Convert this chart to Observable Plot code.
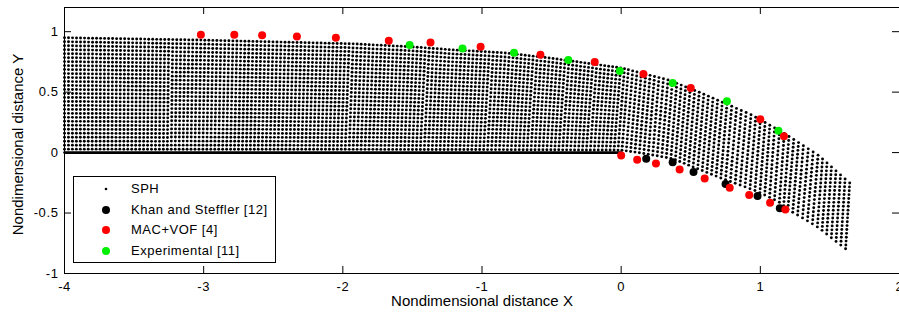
<!DOCTYPE html>
<html><head><meta charset="utf-8">
<script src="https://cdn.jsdelivr.net/npm/d3@7"></script>
<script src="https://cdn.jsdelivr.net/npm/@observablehq/plot@0.6"></script>
<style>
body{margin:0;background:#fff;font-family:"Liberation Sans",Arial,sans-serif;}
#wrap{position:relative;width:899px;height:320px;}
#legend{position:absolute;left:73px;top:176px;width:201px;height:85px;border:1px solid #000;background:#fff;}
.row{position:absolute;left:0;height:20px;line-height:20px;font-size:13px;letter-spacing:0.5px;color:#000;white-space:nowrap;}
.row svg{position:absolute;left:22px;top:0;}
.row span{position:absolute;left:57px;top:0;}
g[aria-label="x-axis tick label"] text, g[aria-label="y-axis tick label"] text{letter-spacing:0.6px;}
g[aria-label="axis-title"] text{letter-spacing:0.6px;}
</style></head><body><div id="wrap"><div id="legend"></div></div>
<script>
// ---- axes ----
const xTicks = [-4, -3, -2, -1, 0, 1, 2];
const yTicks = [-1, -0.5, 0, 0.5, 1];
const xLabel = "Nondimensional distance X";
const yLabel = "Nondimensional distance Y";

// ---- SPH particle field, read as its boundaries ----
// free surface (top row of particles)
const sphUpperX = [-4, -3, -2.66, -1.94, -1.51, -1.22, -0.84, -0.5, 0, 0.34, 0.58, 0.94, 1.17, 1.42, 1.65];
const sphUpperY = [0.95, 0.93, 0.92, 0.90, 0.875, 0.85, 0.825, 0.78, 0.70, 0.60, 0.49, 0.31, 0.16, -0.025, -0.26];
// channel bed + lower nappe (bottom row of particles)
const sphLowerX = [-4, 0, 0.18, 0.37, 0.52, 0.74, 0.98, 1.14, 1.2, 1.32, 1.42, 1.53, 1.62];
const sphLowerY = [0, 0, -0.03, -0.07, -0.14, -0.24, -0.34, -0.43, -0.49, -0.57, -0.64, -0.74, -0.82];
// particle spacing (in data units along x / across the flow)
const sphSpacingBed = 0.0284;
const sphSpacingAcross = 0.034;
// channel bed (solid wall)
const bedX = [-4, 0];
const bedY = [0, 0];

// ---- Khan and Steffler [12] ----
const khanX = [0.18, 0.37, 0.52, 0.75, 0.98, 1.14];
const khanY = [-0.05, -0.08, -0.16, -0.26, -0.36, -0.46];

// ---- MAC+VOF [4] ----
const macX = [-3.02, -2.78, -2.58, -2.33, -2.05, -1.67, -1.37, -1.01, -0.58, -0.19, 0.16, 0.50, 1.0, 1.17,
              0.0, 0.115, 0.25, 0.42, 0.60, 0.78, 0.92, 1.07, 1.18];
const macY = [0.975, 0.975, 0.97, 0.96, 0.95, 0.925, 0.91, 0.875, 0.81, 0.75, 0.65, 0.535, 0.275, 0.135,
              -0.025, -0.06, -0.09, -0.14, -0.215, -0.29, -0.35, -0.415, -0.47];

// ---- Experimental [11] ----
const expX = [-1.52, -1.14, -0.77, -0.38, -0.01, 0.37, 0.76, 1.13];
const expY = [0.89, 0.86, 0.825, 0.765, 0.675, 0.575, 0.425, 0.18];

const legendLabels = ["SPH", "Khan and Steffler [12]", "MAC+VOF [4]", "Experimental [11]"];
const legendColors = ["#000", "#000", "#ff0000", "#00ee00"];
const legendRadius = [1.3, 4, 4, 4];

// build particles between the read boundaries
const KX = 139, KY = 121;
function arc(xs, ys) {
  const s = [0];
  for (let i = 1; i < xs.length; i++) s.push(s[i-1] + Math.hypot((xs[i]-xs[i-1])*KX, (ys[i]-ys[i-1])*KY));
  return s;
}
function pointAt(xs, ys, s, f) {
  const t = f * s[s.length-1];
  let i = 1;
  while (i < s.length - 1 && s[i] < t) i++;
  const u = (t - s[i-1]) / (s[i] - s[i-1] || 1);
  return [xs[i-1] + u*(xs[i]-xs[i-1]), ys[i-1] + u*(ys[i]-ys[i-1])];
}
const sUp = arc(sphUpperX, sphUpperY), sLo = arc(sphLowerX, sphLowerY);
const Ltot = sLo[sLo.length-1], Lbed = sLo[1];
const stepBed = sphSpacingBed * KX, stepAcross = sphSpacingAcross * KY;
const colS = [];
for (let s = 0; s <= Ltot; ) {
  colS.push(s);
  s += s < Lbed ? stepBed : stepBed * (1.1 + 0.45 * (s - Lbed) / (Ltot - Lbed));
}
if (Ltot - colS[colS.length-1] > 2) colS.push(Ltot);
const sph = [];
for (const s of colS) {
  const f = s / Ltot;
  const lo = pointAt(sphLowerX, sphLowerY, sLo, f);
  const up = pointAt(sphUpperX, sphUpperY, sUp, f);
  const lenPx = Math.hypot((up[0]-lo[0])*KX, (up[1]-lo[1])*KY);
  const n = Math.max(2, Math.round(lenPx / stepAcross) + 1);
  for (let k = 0; k < n; k++) {
    const t = 0.03 + 0.97 * k / (n - 1);
    sph.push({x: lo[0] + t*(up[0]-lo[0]), y: lo[1] + t*(up[1]-lo[1])});
  }
}
const zip = (xs, ys) => xs.map((x, i) => ({x, y: ys[i]}));

const W = 899, H = 320, mL = 64, mR = 0, mT = 7, mB = 47;
const fw = W - mL - mR, fh = H - mT - mB;
const font = "Liberation Sans, Arial, sans-serif";

const chart = Plot.plot({
  width: W, height: H,
  marginLeft: mL, marginRight: mR, marginTop: mT, marginBottom: mB,
  style: {fontFamily: font, background: "#fff", color: "#000"},
  x: {domain: [-4, 2]},
  y: {domain: [-1, 1.2]},
  marks: [
    Plot.dot(sph, {x: "x", y: "y", r: 1.45, fill: "#000", stroke: "none"}),
    Plot.line(zip(bedX, bedY), {x: "x", y: "y", stroke: "#000", strokeWidth: 2.6}),
    Plot.dot(zip(khanX, khanY), {x: "x", y: "y", r: 4, fill: "#000", stroke: "none"}),
    Plot.dot(zip(expX, expY), {x: "x", y: "y", r: 4, fill: "#00ee00", stroke: "none"}),
    Plot.dot(zip(macX, macY), {x: "x", y: "y", r: 4, fill: "#ff0000", stroke: "none"}),
    Plot.frame({stroke: "#000", strokeWidth: 1}),
    Plot.tickX(xTicks, {x: d => d, insetTop: fh - 7, stroke: "#000"}),
    Plot.tickX(xTicks, {x: d => d, insetBottom: fh - 7, stroke: "#000"}),
    Plot.tickY(yTicks, {y: d => d, insetRight: fw - 7, stroke: "#000"}),
    Plot.tickY(yTicks, {y: d => d, insetLeft: fw - 7, stroke: "#000"}),
    Plot.axisX(xTicks, {tickSize: 0, tickPadding: 8, tickFormat: d => String(d), fontSize: 13, label: null}),
    Plot.axisY(yTicks, {tickSize: 0, tickPadding: 6, tickFormat: d => String(d), fontSize: 13, label: null}),
    Plot.text([xLabel], {ariaLabel: "axis-title", text: d => d, frameAnchor: "bottom", dy: 28, fontSize: 15, lineAnchor: "middle", textAnchor: "middle"}),
    Plot.text([yLabel], {ariaLabel: "axis-title", text: d => d, frameAnchor: "left", dx: -46, dy: 4, rotate: -90, fontSize: 15, lineAnchor: "middle", textAnchor: "middle"})
  ]
});
const wrap = document.getElementById("wrap");
wrap.insertBefore(chart, wrap.firstChild);

const legend = document.getElementById("legend");
const rowTops = [2, 23, 43, 64];
legendLabels.forEach((lab, i) => {
  const row = document.createElement("div");
  row.className = "row";
  row.style.top = rowTops[i] + "px";
  row.style.width = "200px";
  row.innerHTML = `<svg width="20" height="20"><circle cx="10" cy="10" r="${legendRadius[i]}" fill="${legendColors[i]}"/></svg><span>${lab}</span>`;
  legend.appendChild(row);
});
</script>
</body></html>
